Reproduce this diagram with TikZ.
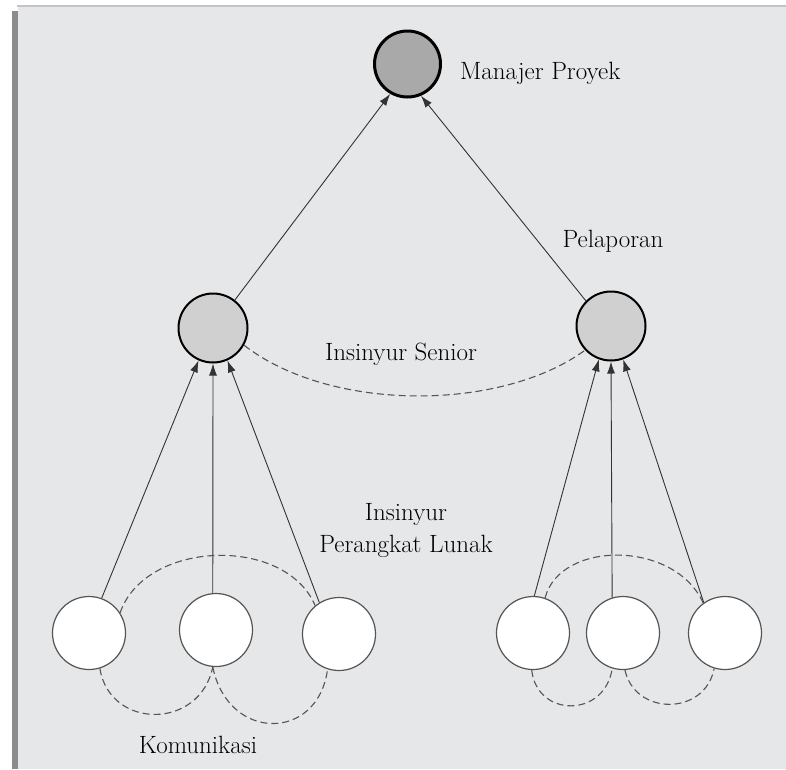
\documentclass[tikz,border=0pt]{standalone}
\usetikzlibrary{arrows.meta}
\definecolor{bgc}{HTML}{E6E7E9}
\definecolor{barc}{HTML}{8C8C8E}
\definecolor{topc}{HTML}{C4C4C6}
\definecolor{mfill}{HTML}{A9A9A9}
\definecolor{sfill}{HTML}{D0D0D0}
\definecolor{linec}{HTML}{333333}
\definecolor{dashc}{HTML}{555555}
\begin{document}
\begin{tikzpicture}[x=1pt,y=-1pt,
  mgr/.style={circle,draw=black,line width=3pt,fill=mfill,minimum size=66pt,inner sep=0pt},
  senior/.style={circle,draw=black,line width=2pt,fill=sfill,minimum size=69pt,inner sep=0pt},
  junior/.style={circle,draw=dashc,line width=1.2pt,fill=white,minimum size=73pt,inner sep=0pt},
  lbl/.style={font=\fontsize{25}{32}\selectfont,text=black,inner sep=0pt},
  rep/.style={draw=linec,line width=0.9pt,-{Latex[length=12pt,width=8pt]}},
  comm/.style={draw=dashc,line width=1.1pt,dash pattern=on 7pt off 4pt}]
\useasboundingbox (0,0) rectangle (786,769);
\fill[white] (0,0) rectangle (786,769);
\fill[bgc] (18,7) rectangle (786,769);
\fill[barc] (12,11) rectangle (18,769);
\fill[topc] (17,4.5) rectangle (786,7);

% nodes
\node[mgr] (m) at (407.5,64) {};
\node[senior] (ls) at (213,328) {};
\node[senior] (rs) at (611,326) {};
\node[junior] (a1) at (89,633) {};
\node[junior] (a2) at (216,630) {};
\node[junior] (a3) at (339,634) {};
\node[junior] (b1) at (533,633) {};
\node[junior] (b2) at (623,633) {};
\node[junior] (b3) at (725,633) {};

% labels
\node[lbl,anchor=base west] (tm) at (460,79) {Manajer Proyek};
\node[lbl,anchor=base] (tp) at (613,247) {Pelaporan};
\node[lbl,anchor=base] (ts) at (401,360) {Insinyur Senior};
\node[lbl,anchor=base,align=center] (tj) at (406,552) {Insinyur\\Perangkat Lunak};
\node[lbl,anchor=base] (tk) at (198,753) {Komunikasi};

% reporting arrows
\draw[rep] (ls.52) -- (m.240);
\draw[rep] (rs.135) -- (m.293);
\draw[rep] (a1.70) -- (ls.246);
\draw[rep] (a2.95) -- (ls.270);
\draw[rep] (a3.122) -- (ls.294);
\draw[rep] (b1.88) -- (rs.250);
\draw[rep] (b2.107) -- (rs.270);
\draw[rep] (b3.125) -- (rs.290);

% communication arcs
\draw[comm] (ls.331) .. controls (330,412) and (500,412) .. (rs.223);
\draw[comm] (a1.33) .. controls (145,540) and (285,535) .. (a3.130);
\draw[comm] (a1.287) .. controls (110,730) and (200,730) .. (a2.265);
\draw[comm] (a2.265) .. controls (228,742) and (318,742) .. (a3.252);
\draw[comm] (b1.71) .. controls (560,540) and (675,540) .. (b3.126);
\draw[comm] (b1.268) .. controls (537,718) and (605,718) .. (b2.253);
\draw[comm] (b2.273) .. controls (635,716) and (705,716) .. (b3.253);
\end{tikzpicture}
\end{document}
